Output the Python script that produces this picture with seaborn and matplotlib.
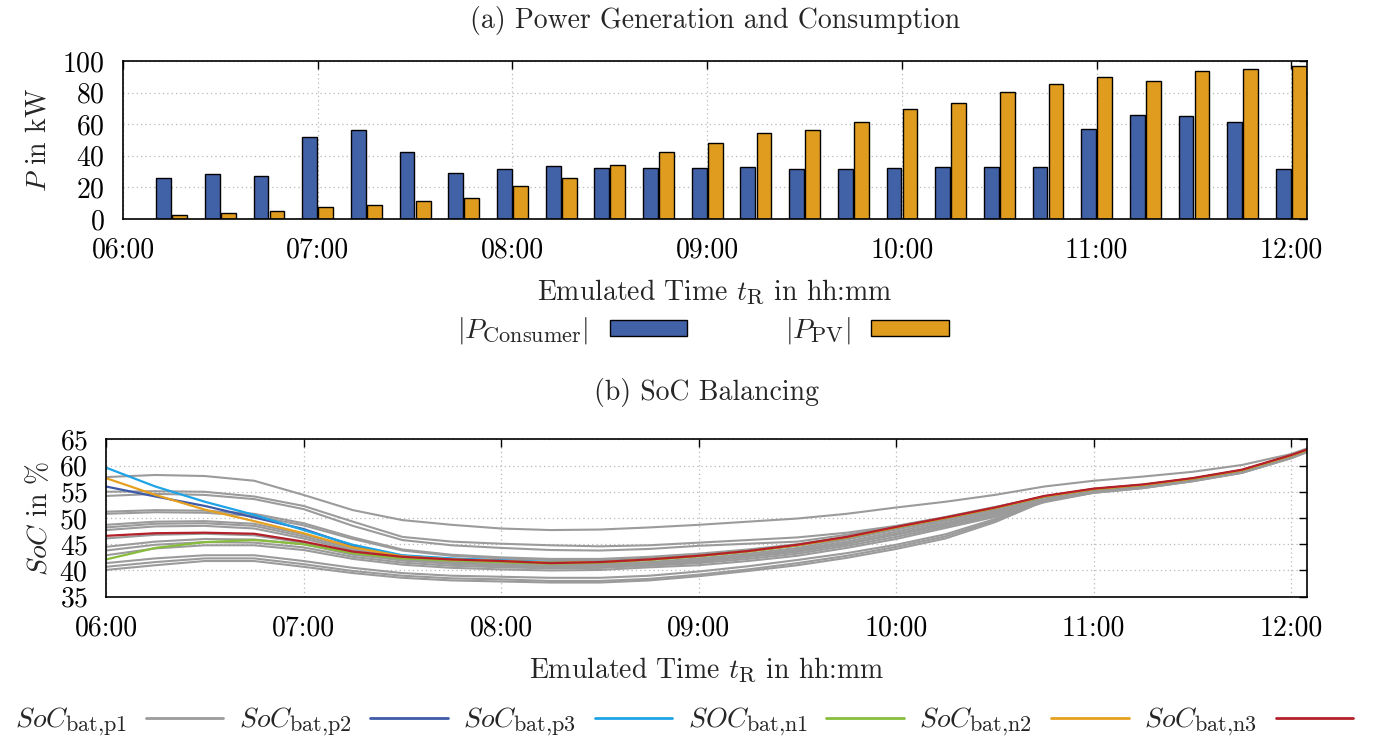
import matplotlib
matplotlib.use("Agg")
import matplotlib.pyplot as plt
from matplotlib.patches import Patch
from matplotlib.lines import Line2D
import seaborn as sns
import pandas as pd

try:
    import matplotlib._mathtext as _mt
    _mt.SHRINK_FACTOR = 0.8
except Exception:
    pass

sns.set_style("white")
plt.rcParams["font.family"] = ["cmr10", "DejaVu Serif"]
plt.rcParams["mathtext.fontset"] = "cm"
plt.rcParams["axes.formatter.use_mathtext"] = True
plt.rcParams["axes.unicode_minus"] = False

# ---------------- data ----------------
bar_times = ["06:15", "06:30", "06:45", "07:00", "07:15", "07:30", "07:45", "08:00",
             "08:15", "08:30", "08:45", "09:00", "09:15", "09:30", "09:45", "10:00",
             "10:15", "10:30", "10:45", "11:00", "11:15", "11:30", "11:45", "12:00"]
p_consumer = [26, 28.3, 27.3, 51.6, 56.2, 42.5, 29.3, 31.8, 33.3, 32.3, 32.3, 32.3,
              33.1, 31.6, 31.6, 32.3, 33.1, 33.1, 33.1, 57.0, 65.8, 65.2, 61.2, 31.6]
p_pv = [2.8, 3.9, 5.1, 7.6, 8.6, 11.1, 13.4, 20.6, 26.0, 34.0, 42.2, 47.9,
        54.2, 56.3, 61.2, 69.4, 73.2, 80.2, 85.3, 89.7, 87.3, 93.5, 94.7, 96.8]

soc_times = ["06:00", "06:15", "06:30", "06:45", "07:00", "07:15", "07:30", "07:45",
             "08:00", "08:15", "08:30", "08:45", "09:00", "09:15", "09:30", "09:45",
             "10:00", "10:15", "10:30", "10:45", "11:00", "11:15", "11:30", "11:45",
             "12:00", "12:05"]

soc_p1_cells = [
    [57.8, 58.2, 58.0, 57.1, 54.4, 51.5, 49.6, 48.7, 48.0, 47.7, 47.8, 48.2, 48.7, 49.3, 49.9, 50.8, 52.0, 53.1, 54.4, 56.0, 57.1, 57.9, 58.8, 60.1, 62.2, 63.3],
    [55.0, 55.1, 55.0, 54.1, 52.3, 49.3, 46.4, 45.5, 45.1, 44.8, 44.6, 44.8, 45.3, 45.8, 46.3, 47.2, 48.5, 50.2, 52.1, 54.0, 55.4, 56.2, 57.4, 59.0, 61.8, 63.0],
    [54.2, 54.6, 54.4, 53.6, 51.7, 48.5, 45.8, 44.8, 44.3, 43.9, 43.8, 44.1, 44.7, 45.1, 45.5, 46.8, 48.4, 50.1, 52.0, 54.0, 55.4, 56.2, 57.4, 59.0, 61.8, 63.0],
    [51.2, 51.5, 51.4, 50.8, 49.0, 46.3, 44.0, 43.0, 42.5, 42.2, 42.2, 42.6, 43.2, 44.0, 45.0, 46.4, 48.2, 50.0, 51.9, 54.0, 55.4, 56.2, 57.4, 59.0, 61.8, 63.0],
    [50.8, 51.1, 51.0, 50.4, 48.6, 46.0, 43.8, 42.8, 42.3, 42.0, 42.0, 42.4, 43.0, 43.8, 44.8, 46.2, 48.0, 49.9, 51.8, 54.0, 55.4, 56.2, 57.4, 59.0, 61.8, 63.0],
    [48.7, 49.3, 49.4, 48.9, 46.9, 44.4, 42.6, 41.9, 41.5, 41.2, 41.2, 41.6, 42.3, 43.2, 44.3, 45.9, 47.8, 49.7, 51.6, 53.9, 55.4, 56.2, 57.4, 59.0, 61.8, 63.0],
    [48.2, 48.9, 49.0, 48.5, 46.5, 44.1, 42.4, 41.6, 41.2, 40.9, 40.9, 41.3, 42.0, 42.9, 44.0, 45.5, 47.4, 49.4, 51.3, 53.7, 55.2, 56.0, 57.3, 58.9, 61.7, 62.9],
    [47.7, 48.4, 48.5, 48.0, 46.1, 43.8, 42.2, 41.4, 41.0, 40.6, 40.6, 41.0, 41.7, 42.6, 43.6, 45.1, 47.0, 49.0, 51.0, 53.5, 55.0, 55.9, 57.2, 58.8, 61.6, 62.8],
    [46.1, 46.8, 47.0, 46.7, 45.3, 43.4, 42.0, 41.3, 40.9, 40.6, 40.6, 41.0, 41.7, 42.6, 43.6, 45.1, 47.0, 49.0, 51.0, 53.5, 55.0, 55.9, 57.2, 58.8, 61.6, 62.8],
    [44.5, 45.5, 46.0, 45.9, 45.0, 43.0, 41.9, 41.3, 41.0, 40.8, 40.9, 41.3, 41.9, 42.7, 43.7, 45.1, 46.8, 48.7, 50.8, 53.4, 55.0, 55.9, 57.2, 58.8, 61.6, 62.8],
    [43.8, 44.9, 45.4, 45.3, 44.4, 42.6, 41.5, 40.9, 40.6, 40.4, 40.5, 40.9, 41.4, 42.2, 43.2, 44.7, 46.4, 48.4, 50.5, 53.2, 54.9, 55.8, 57.1, 58.7, 61.5, 62.7],
    [42.9, 44.2, 44.8, 44.8, 43.9, 42.2, 41.1, 40.5, 40.2, 40.0, 40.1, 40.6, 41.0, 41.8, 42.8, 44.3, 46.0, 48.1, 50.2, 53.0, 54.8, 55.7, 57.0, 58.6, 61.4, 62.6],
    [41.4, 42.3, 42.9, 42.9, 41.8, 40.5, 39.5, 39.0, 38.8, 38.6, 38.6, 39.0, 39.8, 40.8, 42.0, 43.3, 44.9, 46.9, 49.8, 53.6, 55.0, 55.9, 57.2, 58.8, 61.6, 62.8],
    [40.7, 41.6, 42.3, 42.3, 41.2, 39.9, 39.0, 38.5, 38.3, 38.0, 38.0, 38.4, 39.2, 40.2, 41.4, 42.8, 44.5, 46.5, 49.5, 53.4, 54.9, 55.8, 57.1, 58.7, 61.5, 62.7],
    [40.1, 41.0, 41.8, 41.8, 40.7, 39.5, 38.6, 38.1, 37.9, 37.7, 37.7, 38.1, 38.9, 39.9, 41.0, 42.4, 44.1, 46.1, 49.2, 53.2, 54.8, 55.7, 57.0, 58.6, 61.4, 62.6],
]
soc_p2 = [56.0, 54.1, 52.3, 50.1, 47.9, 44.7, 42.8, 42.2, 41.9, 41.5, 41.6, 42.1, 42.8, 43.7, 44.8, 46.3, 48.2, 50.0, 51.9, 54.1, 55.5, 56.3, 57.5, 59.1, 61.9, 63.0]
soc_p3 = [59.6, 56.0, 53.1, 50.6, 47.7, 44.9, 42.9, 42.3, 41.9, 41.6, 41.6, 42.1, 42.8, 43.7, 44.8, 46.3, 48.2, 50.0, 51.9, 54.1, 55.5, 56.3, 57.5, 59.1, 61.9, 63.0]
soc_n1 = [42.1, 44.3, 45.4, 45.8, 45.0, 43.3, 42.3, 41.9, 41.6, 41.3, 41.5, 42.0, 42.7, 43.6, 44.8, 46.3, 48.2, 50.0, 51.9, 54.1, 55.5, 56.3, 57.5, 59.1, 61.9, 63.0]
soc_n2 = [57.6, 54.4, 51.6, 49.4, 47.1, 44.4, 42.7, 42.1, 41.8, 41.5, 41.6, 42.1, 42.8, 43.7, 44.8, 46.3, 48.2, 50.0, 51.9, 54.1, 55.5, 56.3, 57.5, 59.1, 61.9, 63.0]
soc_n3 = [46.6, 47.1, 47.2, 47.0, 45.5, 43.6, 42.6, 42.1, 41.8, 41.4, 41.6, 42.1, 42.8, 43.7, 44.9, 46.4, 48.3, 50.1, 52.0, 54.2, 55.6, 56.4, 57.6, 59.2, 62.0, 63.1]

hour_ticks = [6, 7, 8, 9, 10, 11, 12]
hour_labels = ["06:00", "07:00", "08:00", "09:00", "10:00", "11:00", "12:00"]


def to_hours(s):
    h, m = s.split(":")
    return int(h) + int(m) / 60.0


# ---------------- style ----------------
C_BLUE_BAR = "#4262a8"
C_ORANGE_BAR = "#e09c1e"
C_GRAY = "#9b9b9b"
C_P2 = "#3f5ba8"
C_P3 = "#1ea3e6"
C_N1 = "#88bd3c"
C_N2 = "#e6a020"
C_N3 = "#b3202a"
FS = 20
W, H = 1378, 748

fig = plt.figure(figsize=(W / 100, H / 100), dpi=100)
ax1 = fig.add_axes([123 / W, 1 - 219 / H, (1307 - 123) / W, (219 - 61) / H])
ax2 = fig.add_axes([106 / W, 1 - 596.7 / H, (1307 - 106) / W, (596.7 - 439.3) / H])

# ---------------- (a) bars ----------------
bt = [to_hours(t) for t in bar_times]
df_bars = pd.DataFrame({
    "t": bt + bt,
    "P": p_consumer + p_pv,
    "series": ["Consumer"] * len(bt) + ["PV"] * len(bt),
})
sns.barplot(data=df_bars, x="t", y="P", hue="series", palette=[C_BLUE_BAR, C_ORANGE_BAR],
            native_scale=True, width=0.66, gap=0.08, errorbar=None, saturation=1,
            edgecolor="black", linewidth=1.0, legend=False, ax=ax1)

# ---------------- (b) lines ----------------
st = [to_hours(t) for t in soc_times]
rows = []
for i, cell in enumerate(soc_p1_cells):
    for t, v in zip(st, cell):
        rows.append({"t": t, "soc": v, "unit": i})
df_gray = pd.DataFrame(rows)
sns.lineplot(data=df_gray, x="t", y="soc", units="unit", estimator=None,
             color=C_GRAY, linewidth=1.5, legend=False, ax=ax2)
for vals, col in [(soc_p2, C_P2), (soc_p3, C_P3), (soc_n1, C_N1), (soc_n2, C_N2), (soc_n3, C_N3)]:
    sns.lineplot(x=st, y=vals, color=col, linewidth=1.6, legend=False, ax=ax2)

# ---------------- axes formatting ----------------
for ax in (ax1, ax2):
    ax.set_xlim(6.0, 12.08)
    ax.set_xticks(hour_ticks)
    ax.set_xticklabels(hour_labels)
    ax.grid(True, linestyle=(0, (1, 2.5)), color="#b8b8b8", linewidth=0.9)
    ax.set_axisbelow(True)
    ax.tick_params(direction="in", length=6, width=1.0, top=True, right=True,
                   labelsize=FS, colors="black")
    ax.tick_params(axis="x", pad=13)
    ax.tick_params(axis="y", pad=13)
    for sp in ax.spines.values():
        sp.set_color("black")
        sp.set_linewidth(1.2)
    ax.set_xlabel(r"Emulated Time $t_{\mathrm{R}}$ in hh:mm", fontsize=FS)

ax1.set_ylim(0, 100)
ax1.set_yticks([0, 20, 40, 60, 80, 100])
ax1.set_ylabel(r"$P$ in kW", fontsize=FS)
ax1.yaxis.set_label_coords((51 - 123) / (1307 - 123), 0.5)
ax1.xaxis.set_label_coords(0.5, (219 - 277) / 158)
ax1.set_title("(a) Power Generation and Consumption", fontsize=FS, y=(219 - 28) / 158, pad=0)

ax2.set_ylim(35, 65)
ax2.set_yticks([35, 40, 45, 50, 55, 60, 65])
ax2.set_ylabel(r"$SoC$ in %", fontsize=FS)
ax2.yaxis.set_label_coords((53 - 106) / (1307 - 106), 0.5)
ax2.xaxis.set_label_coords(0.5, (596.7 - 655) / 157.4)
ax2.set_title("(b) SoC Balancing", fontsize=FS, y=(596.7 - 400) / 157.4, pad=0)

# ---------------- legends ----------------
bar_handles = [
    Patch(facecolor=C_BLUE_BAR, edgecolor="black", linewidth=1.0, label=r"$|P_{\mathrm{Consumer}}|$"),
    Patch(facecolor=C_ORANGE_BAR, edgecolor="black", linewidth=1.0, label=r"$|P_{\mathrm{PV}}|$"),
]
fig.legend(handles=bar_handles, loc="center", bbox_to_anchor=(703 / W, 1 - 331 / H),
           ncol=2, frameon=False, markerfirst=False, fontsize=FS,
           handlelength=2.8, handleheight=0.5, handletextpad=0.75, columnspacing=3.5)

line_handles = [
    Line2D([], [], color=C_GRAY, lw=2, label=r"$SoC_{\mathrm{bat{,}p1}}$"),
    Line2D([], [], color=C_P2, lw=2, label=r"$SoC_{\mathrm{bat{,}p2}}$"),
    Line2D([], [], color=C_P3, lw=2, label=r"$SoC_{\mathrm{bat{,}p3}}$"),
    Line2D([], [], color=C_N1, lw=2, label=r"$SOC_{\mathrm{bat{,}n1}}$"),
    Line2D([], [], color=C_N2, lw=2, label=r"$SoC_{\mathrm{bat{,}n2}}$"),
    Line2D([], [], color=C_N3, lw=2, label=r"$SoC_{\mathrm{bat{,}n3}}$"),
]
fig.legend(handles=line_handles, loc="center", bbox_to_anchor=(684 / W, 1 - 722 / H),
           ncol=6, frameon=False, markerfirst=False, fontsize=FS,
           handlelength=2.8, handletextpad=0.67, columnspacing=0.55)

fig.savefig("out.png", dpi=100)
